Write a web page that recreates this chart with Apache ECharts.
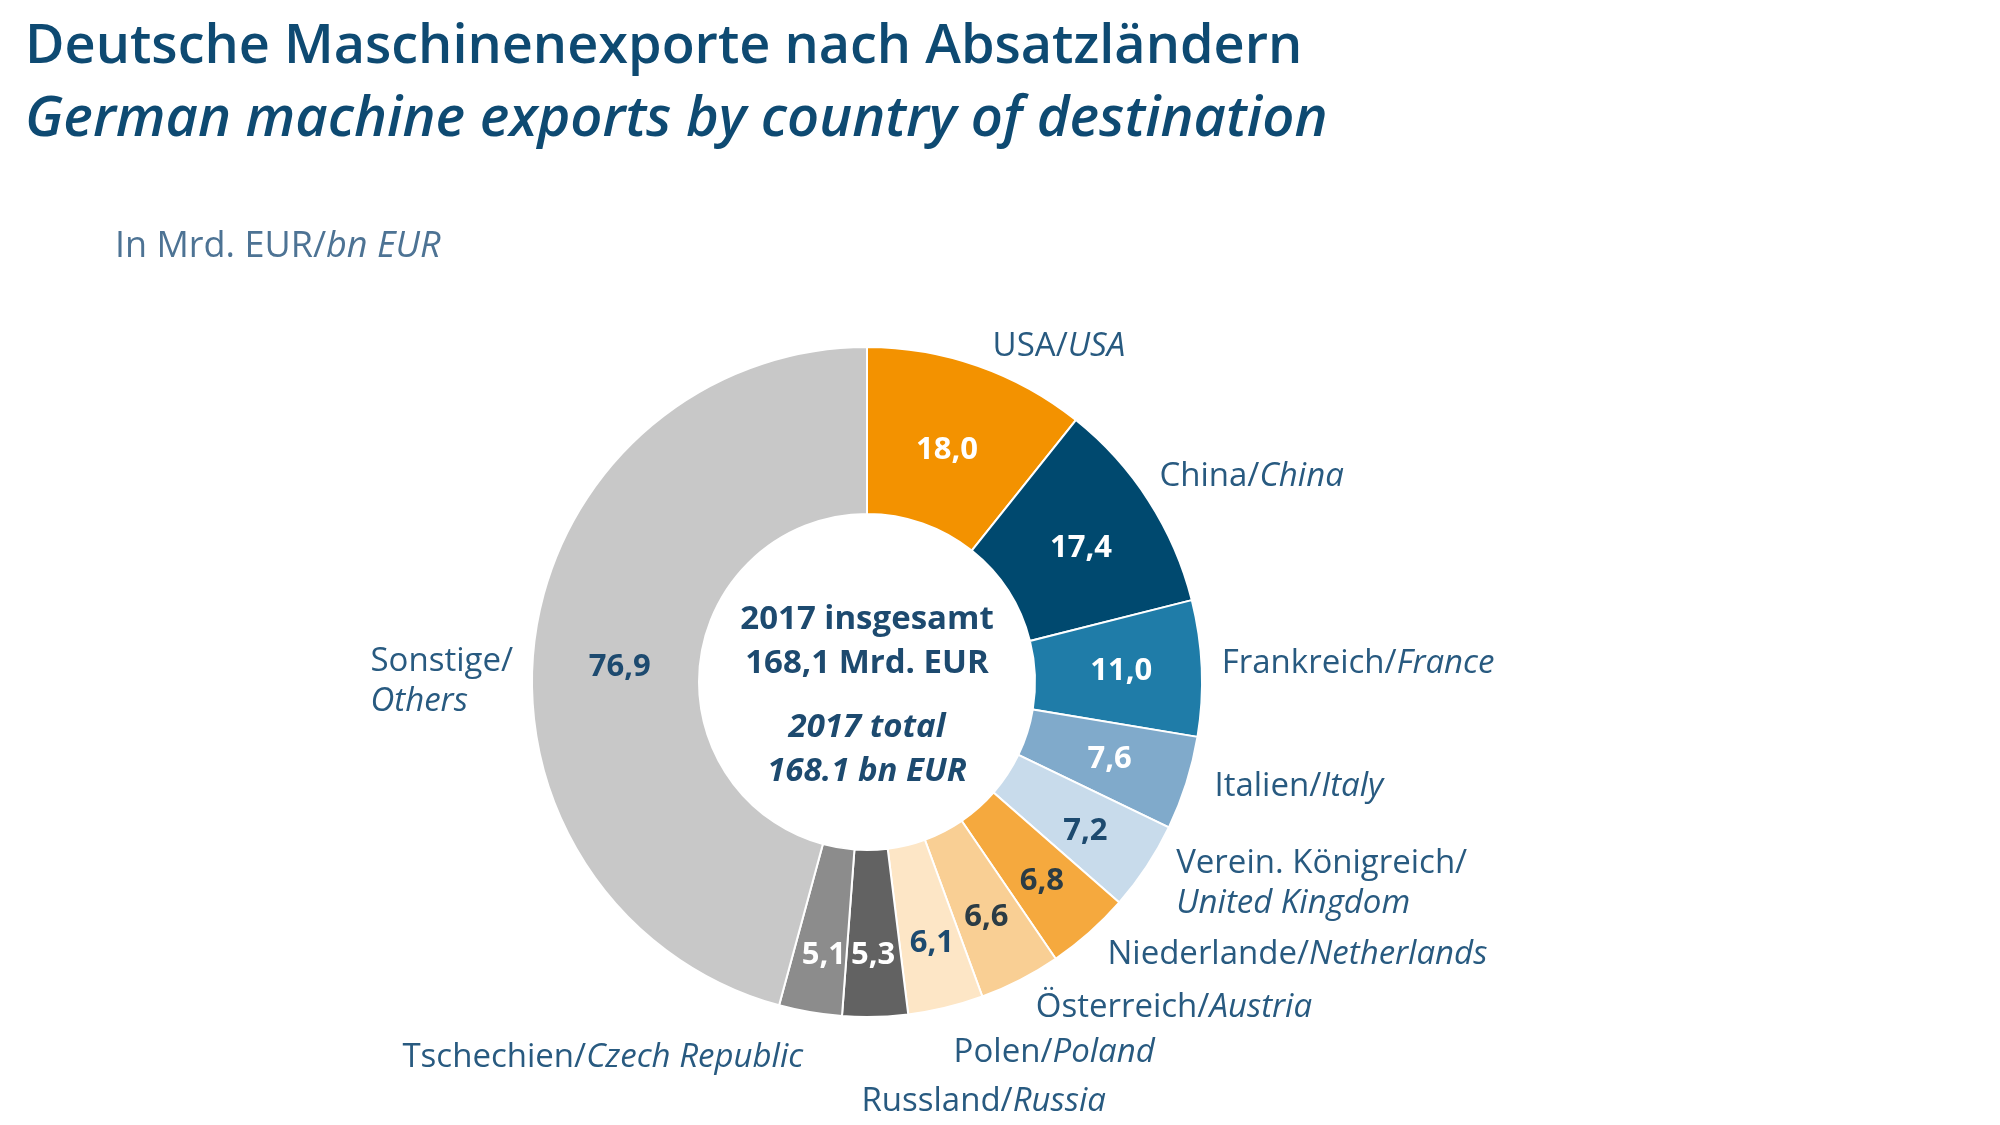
<!DOCTYPE html>
<html>
<head>
<meta charset="utf-8">
<script src="https://cdn.jsdelivr.net/npm/echarts@6/dist/echarts.min.js"></script>
<style>
html,body{margin:0;padding:0;background:#fff}
#main{width:2000px;height:1125px}
</style>
</head>
<body>
<div id="main"></div>
<script>
// Deutsche Maschinenexporte 2017, Mrd. EUR
var namesDe = ['USA', 'China', 'Frankreich', 'Italien', 'Verein. Königreich', 'Niederlande',
    'Österreich', 'Polen', 'Russland', 'Tschechien', 'Sonstige'];
var namesEn = ['USA', 'China', 'France', 'Italy', 'United Kingdom', 'Netherlands',
    'Austria', 'Poland', 'Russia', 'Czech Republic', 'Others'];
var values = [18.0, 17.4, 11.0, 7.6, 7.2, 6.8, 6.6, 6.1, 5.3, 5.1, 76.9];
var total = 168.1;

var sliceColors = ['#f39200', '#00496f', '#1f7ca8', '#80aacb', '#c8dbeb', '#f5a93e',
    '#f9cf94', '#fde6c6', '#626262', '#8c8c8c', '#c8c8c8'];
var valueColors = ['#fff', '#fff', '#fff', '#fff', '#1d4a6f', '#2b3c45',
    '#2b3c45', '#1d4a6f', '#fff', '#fff', '#1d4a6f'];
var twoLines = [false, false, false, false, true, false, false, false, false, false, true];
// small hand tweaks of the labels after the automatic layout [dx, dy]
var labelNudge = [[6, -8], [0, -18], [8, -4], [13, 0], [6, 10], [-20, 13],
    [-46, 17], [-70, 20], [-19, 27], [0, 34], [-5, 46]];
var valueNudge = [[-4, 8], [0, 4], [0, 0], [0, 0], [6, 9], [6, 9],
    [3, 9], [5, 14], [0, 19], [0, 22], [5, 19]];

var fontFam = '"Open Sans", "Noto Sans", sans-serif';
var textBlue = '#285a80';

function fmt(v) {
    return v.toFixed(1).replace('.', ',');
}

var chart = echarts.init(document.getElementById('main'));

var nameData = [], valueData = [];
for (var i = 0; i < values.length; i++) {
    nameData.push({
        name: namesDe[i],
        value: values[i],
        itemStyle: {color: sliceColors[i]}
    });
    valueData.push({
        name: namesDe[i],
        value: values[i],
        label: {color: valueColors[i]}
    });
}

var pieCenter = [867, 682];
var pieRadius = [168, 335];

var option = {
    backgroundColor: '#fff',
    animation: false,
    title: [
        {
            text: 'Deutsche Maschinenexporte nach Absatzländern',
            left: 20, top: 16,
            textStyle: {fontFamily: fontFam, fontSize: 54, fontWeight: 600, color: '#0e4a72'}
        },
        {
            text: 'German machine exports by country of destination',
            left: 20, top: 87,
            textStyle: {fontFamily: fontFam, fontSize: 56, fontWeight: 600, fontStyle: 'italic', color: '#0e4a72'}
        },
        {
            text: '{a|In Mrd. EUR/}{b|bn EUR}',
            left: 110, top: 224,
            textStyle: {
                rich: {
                    a: {fontFamily: fontFam, fontSize: 36, fontWeight: 'normal', color: '#4d7394'},
                    b: {fontFamily: fontFam, fontSize: 36, fontWeight: 'normal', fontStyle: 'italic', color: '#4d7394'}
                }
            }
        }
    ],
    series: [
        {
            // Ring with country names outside
            type: 'pie',
            center: pieCenter,
            radius: pieRadius,
            startAngle: 90,
            clockwise: true,
            avoidLabelOverlap: true,
            itemStyle: {borderColor: '#fff', borderWidth: 2},
            labelLine: {show: false, length: 12, length2: 0},
            label: {
                position: 'outside',
                fontFamily: fontFam,
                lineHeight: 40,
                formatter: function (p) {
                    var i = p.dataIndex;
                    return '{de|' + namesDe[i] + '/}' + (twoLines[i] ? '\n' : '') + '{en|' + namesEn[i] + '}';
                },
                rich: {
                    de: {fontFamily: fontFam, fontSize: 33, color: textBlue, lineHeight: 40, align: 'left'},
                    en: {fontFamily: fontFam, fontSize: 33, fontStyle: 'italic', color: textBlue, lineHeight: 40, align: 'left'}
                }
            },
            labelLayout: function (p) {
                var n = labelNudge[p.dataIndex];
                return {dx: n[0], dy: n[1]};
            },
            data: nameData
        },
        {
            // Values inside the ring
            type: 'pie',
            center: pieCenter,
            radius: pieRadius,
            startAngle: 90,
            clockwise: true,
            silent: true,
            itemStyle: {color: 'rgba(0,0,0,0)'},
            label: {
                position: 'inside',
                fontFamily: fontFam,
                fontSize: 31,
                fontWeight: 'bold',
                formatter: function (p) { return fmt(p.value); }
            },
            labelLayout: function (p) {
                var n = valueNudge[p.dataIndex];
                return {dx: n[0], dy: n[1]};
            },
            labelLine: {show: false},
            data: valueData
        },
        {
            // Total in the middle
            type: 'pie',
            center: pieCenter,
            radius: [0, pieRadius[0] - 4],
            silent: true,
            itemStyle: {color: 'rgba(0,0,0,0)'},
            label: {
                position: 'center',
                padding: [28, 0, 0, 0],
                formatter: '{b|2017 insgesamt}\n{b|' + fmt(total) + ' Mrd. EUR}\n{s|}\n{i|2017 total}\n{i|' + total.toFixed(1) + ' bn EUR}',
                rich: {
                    b: {fontFamily: fontFam, fontSize: 33, fontWeight: 'bold', color: '#1d4a6f', lineHeight: 44},
                    i: {fontFamily: fontFam, fontSize: 33, fontWeight: 'bold', fontStyle: 'italic', color: '#1d4a6f', lineHeight: 44},
                    s: {fontSize: 10, lineHeight: 20}
                }
            },
            labelLine: {show: false},
            data: [{name: 'total', value: total}]
        }
    ]
};

chart.setOption(option);
</script>
</body>
</html>
